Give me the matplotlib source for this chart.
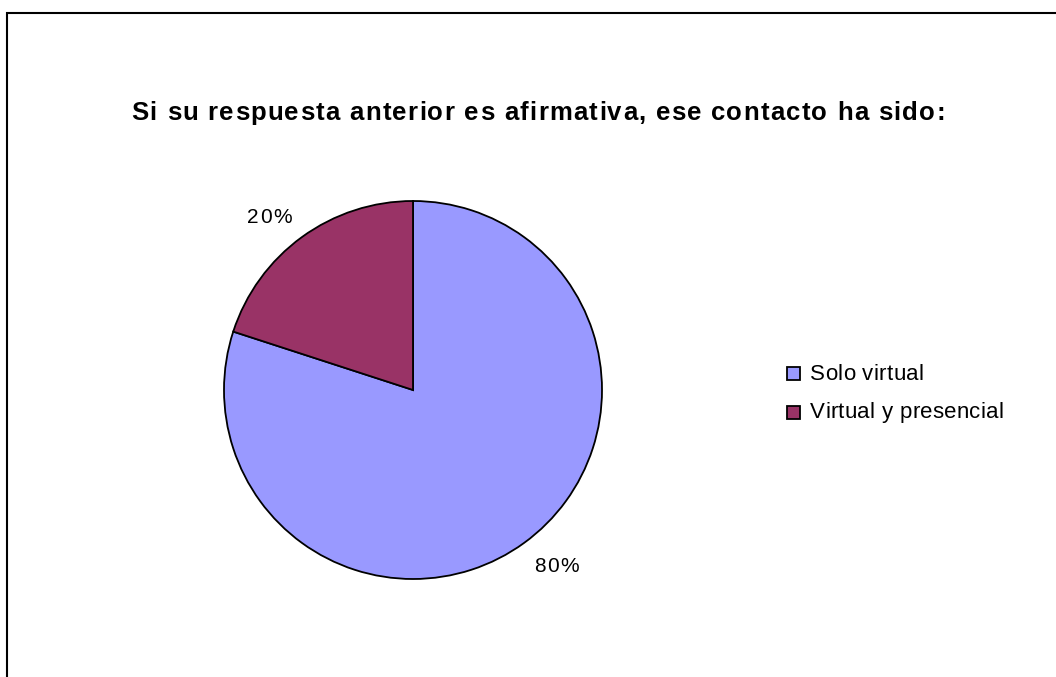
import numpy as np
import matplotlib
matplotlib.use('Agg')
import matplotlib.pyplot as plt
from matplotlib.patches import Rectangle
from matplotlib.transforms import offset_copy
from matplotlib.font_manager import FontProperties, findfont
from matplotlib.ft2font import FT2Font

title = 'Si su respuesta anterior es afirmativa, ese contacto ha sido:'
categories = ['Solo virtual', 'Virtual y presencial']
values = [80, 20]
colors = ['#9999FF', '#993366']

W, H = 1056, 677
FAMILY = 'Liberation Sans'
plt.rcParams['font.family'] = [FAMILY, 'DejaVu Sans']


def advances(s, size, weight):
    # per-character advance widths in pixels (dpi 100)
    font = FT2Font(findfont(FontProperties(family=FAMILY, weight=weight)))
    font.set_size(size, 100)
    out = []
    for c in s:
        g = font.load_char(ord(c))
        out.append(g.linearHoriAdvance / 65536.0)
    return out


def spaced_text(fig, x, y, s, transform, size, spacing, weight='normal',
                ha='left', va='baseline'):
    # draws text with extra tracking between letters (Excel style)
    adv = advances(s, size, weight)
    total = sum(adv) + spacing * (len(s) - 1)
    cap = 0.716 * size * 100 / 72
    dx = {'left': 0, 'center': -total / 2, 'right': -total}[ha]
    dy = {'baseline': 0, 'bottom': 0, 'center': -cap / 2, 'top': -cap}[va]
    for c, a in zip(s, adv):
        tr = offset_copy(transform, fig=fig, x=dx, y=dy, units='dots')
        fig.text(x, y, c, transform=tr, fontsize=size, fontweight=weight,
                 family=FAMILY, ha='left', va='baseline')
        dx += a + spacing


fig = plt.figure(figsize=(W / 100, H / 100), dpi=100)
fig.patch.set_facecolor('w')

# chart area frame, open towards the bottom/right edges
fig.add_artist(Rectangle((7 / W, -0.1), 1.2, (H - 13) / H + 0.1, transform=fig.transFigure,
                         fill=False, edgecolor='black', linewidth=1.5))

spaced_text(fig, 538 / W, 1 - 120 / H, title, fig.transFigure, 18.5, 1.3,
            weight='bold', ha='center')

# pie
cx, cy, r = 413, H - 390, 189
ax = fig.add_axes([(cx - r) / W, (cy - r) / H, 2 * r / W, 2 * r / H])
wedges, _ = ax.pie(values, colors=colors, startangle=90, counterclock=False, radius=1,
                   wedgeprops=dict(edgecolor='black', linewidth=1.3))
ax.set_xlim(-1, 1)
ax.set_ylim(-1, 1)
ax.set_aspect('equal')

# percent labels: nearest corner of the label sits on the wedge bisector
total = sum(values)
for w, v in zip(wedges, values):
    ang = np.deg2rad((w.theta1 + w.theta2) / 2)
    c, s = np.cos(ang), np.sin(ang)
    spaced_text(fig, 1.09 * c, 1.09 * s, '{:.0f}%'.format(100 * v / total),
                ax.transData, 15, 1.4, ha='right' if c < 0 else 'left',
                va='bottom' if s > 0 else 'top')

# legend
for i, (lab, col) in enumerate(zip(categories, colors)):
    yc = 373.5 + i * 38.5
    fig.add_artist(Rectangle((787 / W, 1 - (yc + 6.5) / H), 13 / W, 13 / H,
                             transform=fig.transFigure, facecolor=col,
                             edgecolor='black', linewidth=1.3))
    spaced_text(fig, 810 / W, 1 - (yc + 6) / H, lab, fig.transFigure, 16, 0.3)

fig.savefig('out.png', dpi=100)
